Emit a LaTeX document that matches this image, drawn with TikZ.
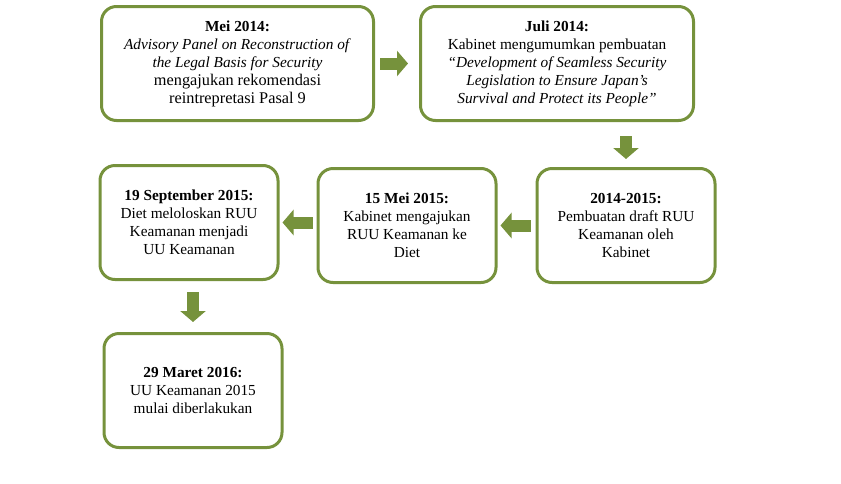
\documentclass[tikz,border=0pt]{standalone}
\usepackage{fontspec}
\setmainfont{Liberation Serif}
\usepackage{xcolor}
\usetikzlibrary{positioning,arrows.meta}

\definecolor{olive}{HTML}{76923C}

\begin{document}
\begin{tikzpicture}[
    x=1pt, y=1pt,
    box/.style={draw=olive, line width=3pt, rectangle, rounded corners=15pt, align=center,
      minimum width=178pt, minimum height=114pt, font=\fontsize{15.3}{18}\selectfont},
    flow/.style={draw=olive, line width=12pt, -{Triangle[length=11pt,width=25pt]}}
  ]
    \useasboundingbox (0,0) rectangle (841,-483);

    % Ligne du haut
    \node[box, minimum width=272pt] (mei) at (237.5,-63.5) {\textbf{Mei 2014:}\\
      \textit{Advisory Panel on Reconstruction of}\\
      \textit{the Legal Basis for Security}\\
      {\fontsize{16.3}{18}\selectfont mengajukan rekomendasi}\\
      {\fontsize{16.3}{18}\selectfont reintrepretasi Pasal 9}};
    \node[box, minimum width=273pt, right=44pt of mei] (juli) {\textbf{Juli 2014:}\\
      Kabinet mengumumkan pembuatan\\
      \textit{“Development of Seamless Security}\\
      \textit{Legislation to Ensure Japan’s}\\
      \textit{Survival and Protect its People”}};

    % Ligne du milieu, de droite à gauche
    \node[box, below=45pt of juli, xshift=69pt] (draft) {\textbf{2014-2015:}\\
      Pembuatan draft RUU\\ Keamanan oleh\\ Kabinet};
    \node[box, left=38pt of draft] (usul) {\textbf{15 Mei 2015:}\\
      Kabinet mengajukan\\ RUU Keamanan ke\\ Diet};
    \node[box, left=37pt of usul, yshift=3pt] (sah) {\textbf{19 September 2015:}\\
      Diet meloloskan RUU\\ Keamanan menjadi\\ UU Keamanan};

    % Bas
    \node[box, below=51pt of sah, xshift=4pt] (berlaku) {\textbf{29 Maret 2016:}\\
      UU Keamanan 2015\\ mulai diberlakukan};

    % Flèches
    \draw[flow, shorten <=5pt, shorten >=11pt] (mei) -- (juli);
    \draw[flow, shorten <=14pt, shorten >=8pt] (juli.south -| draft) -- (draft);
    \draw[flow, shorten <=5pt, shorten >=3pt] (draft) -- (usul);
    \draw[flow, shorten <=4pt, shorten >=3pt] (usul.west |- sah.east) -- (sah.east);
    \draw[flow, shorten <=11pt, shorten >=10pt] (sah.south -| berlaku) -- (berlaku);

  \end{tikzpicture}
\end{document}
